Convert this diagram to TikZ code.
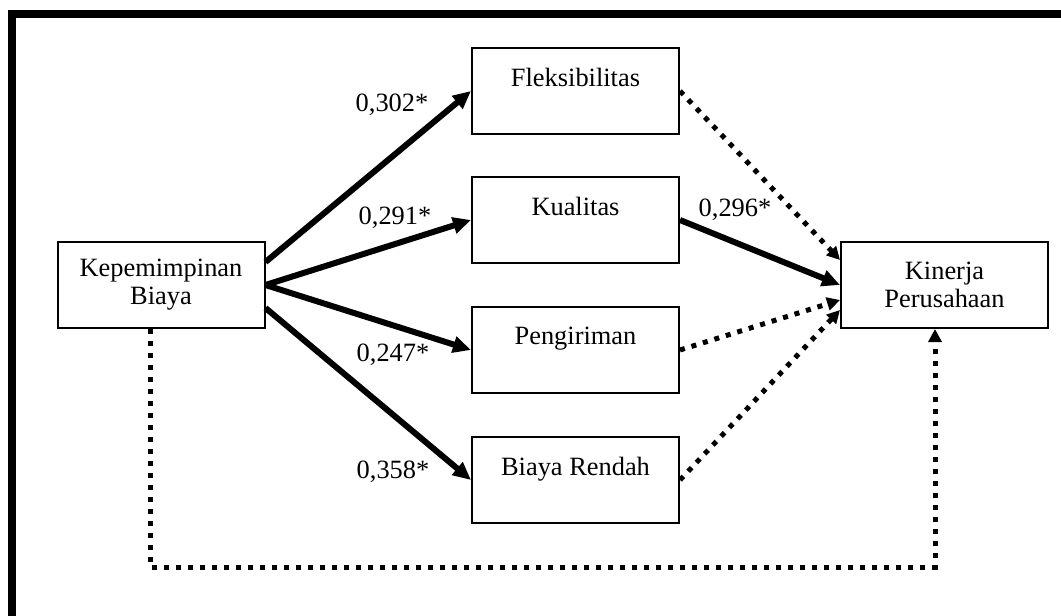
\documentclass[tikz,border=0pt]{standalone}
\usepackage{fontspec}
\setmainfont{Liberation Serif}
\usetikzlibrary{arrows.meta}

\begin{document}
\begin{tikzpicture}[x=0.5pt,y=-0.5pt,
    var/.style={draw,line width=1pt,minimum width=103.5pt,minimum height=43pt,
        align=center,inner sep=0pt,font=\fontsize{13.2}{14}\selectfont},
    coef/.style={font=\fontsize{13.2}{14}\selectfont,inner sep=0pt},
    sig/.style={line width=3pt,-{Triangle[length=9pt,width=8pt]}},
    nsig/.style={line width=2.5pt,dash pattern=on 2.5pt off 3.5pt,
        -{Triangle[length=6.5pt,width=6.5pt]}}]

        \useasboundingbox (0,0) rectangle (1061,616);

        % Frame
        \draw[line width=4pt,line join=miter] (12,620) -- (12,14) -- (1065,14);

        % Variables
        \node[var] (kb) at (161,285) {Kepemimpinan\\Biaya};
        \node[var] (flex) at (575.5,91) {Fleksibilitas\\ ~};
        \node[var] (kual) at (575.5,220) {Kualitas\\ ~};
        \node[var] (peng) at (575.5,350) {Pengiriman\\ ~};
        \node[var] (br) at (575.5,480) {Biaya Rendah\\ ~};
        \node[var] (kp) at (944.5,285) {Kinerja\\Perusahaan};

        % Significant paths
        \draw[sig] ([yshift=11.5pt]kb.east) -- (flex.west);
        \draw[sig] (kb.east) -- (kual.west);
        \draw[sig] (kb.east) -- (peng.west);
        \draw[sig] ([yshift=-11.5pt]kb.east) -- (br.west);
        \draw[sig] (kual.east) -- (kp.west);

        % Not significant paths
        \draw[nsig] (flex.east) -- ([yshift=12.5pt]kp.west);
        \draw[nsig] (peng.east) -- ([yshift=-7.5pt]kp.west);
        \draw[nsig] (br.east) -- ([yshift=-12.5pt]kp.west);
        \coordinate (bl) at (150,567);
        \coordinate (brr) at (935,567);
        \draw[nsig] (kb.south -| bl) -- (bl) -- (brr) -- (kp.south -| brr);

        % Coefficients
        \node[coef] (c302) at (392,105) {0,302*};
        \node[coef] (c291) at (395,218) {0,291*};
        \node[coef] (c247) at (393,355) {0,247*};
        \node[coef] (c358) at (393,472) {0,358*};
        \node[coef] (c296) at (735,210) {0,296*};

    \end{tikzpicture}
\end{document}
